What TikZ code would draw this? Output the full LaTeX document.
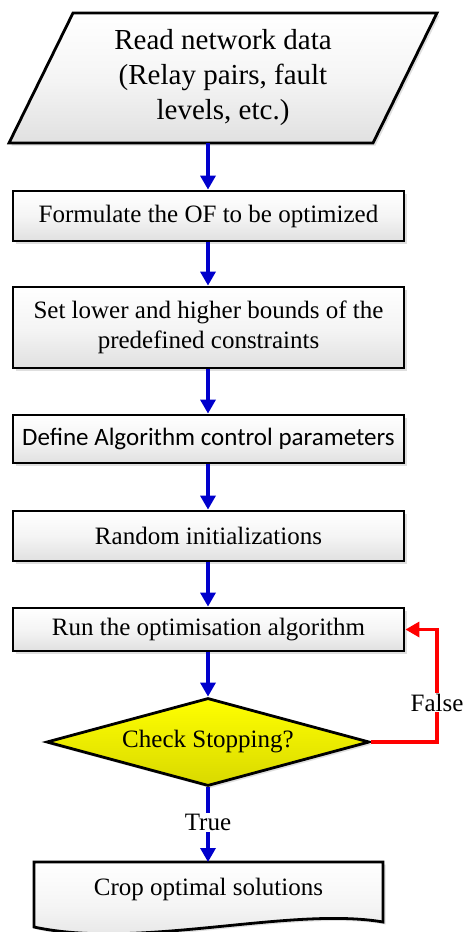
\documentclass[tikz,border=0pt]{standalone}
\usepackage{fontspec}
\setmainfont{Liberation Serif}
\newfontfamily\calib{Carlito}
\usetikzlibrary{shapes.geometric,arrows.meta,shadows}
\definecolor{flowblue}{RGB}{0,0,204}
\definecolor{flowred}{RGB}{255,0,0}
\tikzset{
  every node/.style={font=\fontsize{25}{30}\selectfont},
  boxshade/.style={top color=white, bottom color=black!12, middle color=black!4},
  shadowed/.style={drop shadow={opacity=0.25, shadow xshift=2.5pt, shadow yshift=-2.5pt}},
  procbox/.style={draw=black, line width=2.8pt, rectangle, boxshade, shadowed, minimum width=391pt, inner sep=2pt, align=center},
  decision/.style={draw=black, line width=2.8pt, diamond, aspect=3.67, top color=yellow, bottom color=yellow!85!black, shadowed, minimum width=323pt, minimum height=88pt, inner sep=0pt},
  flowarrow/.style={draw=flowblue, line width=3.3pt, -{Triangle[length=14pt,width=15pt]}},
  backarrow/.style={draw=flowred, line width=3.3pt, -{Triangle[length=14pt,width=15pt]}},
  lbl/.style={fill=white, inner sep=1pt},
}
\begin{document}
\begin{tikzpicture}[x=1pt,y=1pt]
\useasboundingbox (0,0) rectangle (464,-932);
% input parallelogram
\path[draw=black, line width=2.8pt, boxshade, shadowed] (73,-13) -- (437,-13) -- (373,-143) -- (9,-143) -- cycle;
\node[align=center, font=\fontsize{29}{35}\selectfont] (inp) at (223,-78) {Read network data\\(Relay pairs, fault\\levels, etc.)};
\coordinate (inpb) at (208,-143);
% process boxes
\node[procbox, minimum height=50pt] (b1) at (208.5,-216) {Formulate the OF to be optimized};
\node[procbox, minimum height=81pt] (b2) at (208.5,-327.5) {Set lower and higher bounds of the\\predefined constraints};
\node[procbox, minimum height=48pt, font=\calib\fontsize{25}{30}\selectfont] (b3) at (208.5,-439) {Define Algorithm control parameters};
\node[procbox, minimum height=50pt] (b4) at (208.5,-536) {Random initializations};
\node[procbox, minimum height=43pt] (b5) at (208.5,-629.5) {Run the optimisation algorithm};
% decision
\node[decision] (dec) at (208,-742) {Check Stopping?};
% document
\path[draw=black, line width=2.8pt, boxshade, shadowed] (34,-862) -- (383,-862) -- (383,-922) .. controls (290,-906) and (140,-950) .. (34,-927) -- cycle;
\node (doc) at (208.5,-889) {Crop optimal solutions};
\coordinate (doct) at (208,-862);
% connectors
\draw[flowarrow] (inpb) -- (b1.north -| inpb);
\draw[flowarrow] (b1.south -| inpb) -- (b2.north -| inpb);
\draw[flowarrow] (b2.south -| inpb) -- (b3.north -| inpb);
\draw[flowarrow] (b3.south -| inpb) -- (b4.north -| inpb);
\draw[flowarrow] (b4.south -| inpb) -- (b5.north -| inpb);
\draw[flowarrow] (b5.south -| inpb) -- (dec.north);
\draw[flowarrow] (dec.south) -- node[lbl, pos=0.47] (tr) {True} (doct);
\coordinate (c1) at (437,-742);
\coordinate (c2) at (437,-629.5);
\draw[backarrow] (dec.east) -- (c1) -- node[lbl, pos=0.35] (fl) {False} (c2) -- (b5.east);
\end{tikzpicture}
\end{document}
